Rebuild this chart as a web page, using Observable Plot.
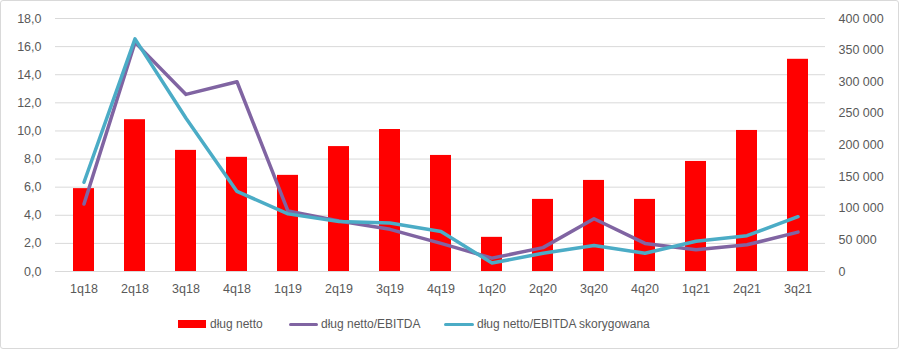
<!DOCTYPE html>
<html><head><meta charset="utf-8">
<script src="https://cdn.jsdelivr.net/npm/d3@7"></script>
<script src="https://cdn.jsdelivr.net/npm/@observablehq/plot@0.6"></script>
<style>
body{margin:0;background:#fff;font-family:"Liberation Sans",Arial,sans-serif;}
#frame{position:absolute;left:0;top:0;width:899px;height:349px;box-sizing:border-box;border:1px solid #d9d9d9;border-radius:3px;}
#chart{position:absolute;left:0;top:0;}
#legend{position:absolute;left:0;top:314px;width:900px;height:20px;font-size:12px;color:#595959;}
.sw{position:absolute;}
.lt{position:absolute;top:3px;white-space:nowrap;}
</style></head><body>
<div id="frame"></div>
<div id="chart"></div>
<div id="legend">
  <div class="sw" style="left:178px;top:6px;width:28px;height:8px;background:#ff0000"></div>
  <div class="lt" style="left:210px">dług netto</div>
  <div class="sw" style="left:289px;top:9px;width:29px;height:3px;border-radius:2px;background:#8064a2"></div>
  <div class="lt" style="left:321px">dług netto/EBITDA</div>
  <div class="sw" style="left:444px;top:9px;width:30px;height:3px;border-radius:2px;background:#4bacc6"></div>
  <div class="lt" style="left:477px">dług netto/EBITDA skorygowana</div>
</div>
<script>
const quarters = ["1q18","2q18","3q18","4q18","1q19","2q19","3q19","4q19","1q20","2q20","3q20","4q20","1q21","2q21","3q21"];
const dlugNetto = [131000,240000,191500,180500,152000,197500,224500,183500,54000,114000,144000,114000,174000,223000,335500];
const dlugEbitda = [4.8,16.3,12.6,13.5,4.3,3.6,3.0,2.0,0.95,1.7,3.75,2.0,1.55,1.9,2.8];
const dlugEbitdaSkor = [6.35,16.55,10.9,5.7,4.1,3.55,3.45,2.85,0.6,1.3,1.85,1.3,2.15,2.55,3.9];
const leftTicks = [0,2,4,6,8,10,12,14,16,18];
const rightTicks = [0,50000,100000,150000,200000,250000,300000,350000,400000];

const LMAX = 18, RMAX = 400000;
const toLeft = v => v * LMAX / RMAX;
const rows = quarters.map((q,i)=>({q, netto: dlugNetto[i], e: dlugEbitda[i], s: dlugEbitdaSkor[i]}));
const fmtL = d => d.toFixed(1).replace(".", ",");
const fmtR = d => d3.format(",")(Math.round(d * RMAX / LMAX)).replace(/,/g, " ");

const chart = Plot.plot({
  width: 900, height: 300,
  marginLeft: 55, marginRight: 75, marginTop: 18, marginBottom: 29,
  style: {fontFamily: "Liberation Sans, Arial, sans-serif", fontSize: "12.5px", color: "#595959", background: "transparent"},
  x: {domain: quarters, paddingInner: 0.59, paddingOuter: 0.295, label: null},
  y: {domain: [0, LMAX], label: null},
  marks: [
    Plot.ruleY(leftTicks, {stroke: "#d9d9d9", strokeWidth: 1}),
    Plot.axisY(leftTicks, {anchor: "left", tickSize: 0, tickPadding: 14, tickFormat: fmtL, label: null, fill: "#595959"}),
    Plot.axisY(rightTicks.map(toLeft), {anchor: "right", tickSize: 0, tickPadding: 13, tickFormat: fmtR, label: null, fill: "#595959", textAnchor: "start"}),
    Plot.axisX({tickSize: 0, tickPadding: 13, label: null, fill: "#595959"}),
    Plot.barY(rows, {x: "q", y: d => toLeft(d.netto), fill: "#ff0000"}),
    Plot.lineY(rows, {x: "q", y: "e", stroke: "#8064a2", strokeWidth: 3.5, strokeLinejoin: "round"}),
    Plot.lineY(rows, {x: "q", y: "s", stroke: "#4bacc6", strokeWidth: 3.5, strokeLinejoin: "round"})
  ]
});
document.getElementById("chart").appendChild(chart);
</script>
</body></html>
